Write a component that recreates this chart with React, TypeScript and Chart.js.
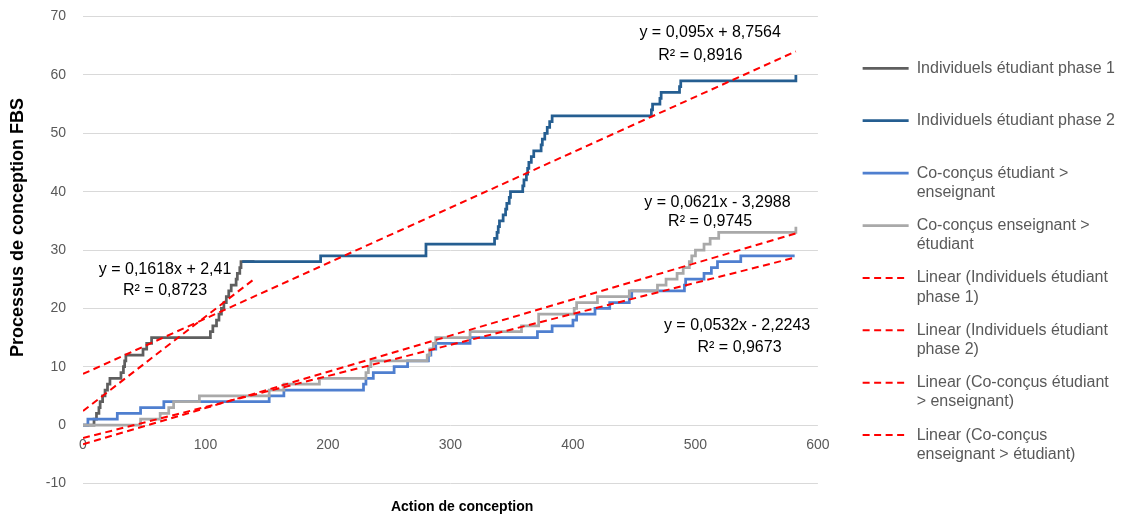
import React, { useEffect, useRef } from 'react';
import { Chart, registerables } from 'chart.js';

Chart.register(...registerables);

const FONT = "'Liberation Sans', Arial, Helvetica, sans-serif";

// ---- data (x where the cumulative count changes, new count) ----
const phase1X = [0, 8, 9, 11, 13, 14, 16, 18, 20, 22, 31, 33, 34, 35, 49, 52, 56, 104, 106, 109, 111, 113, 115, 117, 119, 121, 125, 126, 128, 129, 140];
const phase1Y = [0, 0, 1, 2, 3, 4, 5, 6, 7, 8, 9, 10, 11, 12, 13, 14, 15, 16, 17, 18, 19, 20, 21, 22, 23, 24, 25, 26, 27, 28, 28];

const phase2X = [130, 194, 280, 336, 338, 339, 340, 343, 345, 346, 348, 349, 359, 360, 362, 363, 364, 366, 368, 374, 375, 377, 379, 381, 383, 464, 465, 471, 472, 487, 488, 582];
const phase2Y = [28, 29, 31, 32, 33, 34, 35, 36, 37, 38, 39, 40, 41, 42, 43, 44, 45, 46, 47, 48, 49, 50, 51, 52, 53, 54, 55, 56, 57, 58, 59, 60];

const coEtuEnsX = [0, 4, 28, 47, 66, 152, 164, 229, 231, 237, 254, 265, 282, 284, 288, 316, 371, 383, 400, 403, 418, 430, 446, 448, 491, 492, 507, 513, 518, 537, 581];
const coEtuEnsY = [0, 1, 2, 3, 4, 5, 6, 7, 8, 9, 10, 11, 12, 13, 14, 15, 16, 17, 18, 19, 20, 21, 22, 23, 24, 25, 26, 27, 28, 29, 29];

const coEnsEtuX = [0, 47, 63, 70, 74, 95, 152, 164, 193, 231, 233, 235, 281, 283, 286, 288, 316, 358, 372, 401, 403, 420, 446, 469, 476, 485, 490, 495, 497, 500, 507, 512, 519, 582];
const coEnsEtuY = [0, 1, 2, 3, 4, 5, 6, 7, 8, 9, 10, 11, 12, 13, 14, 15, 16, 17, 19, 20, 21, 22, 23, 24, 25, 26, 27, 28, 29, 30, 31, 32, 33, 34];

// Linear trendlines (coefficients as printed on the chart)
const trendSlope = [0.1618, 0.095, 0.0532, 0.0621];
const trendIntercept = [2.41, 8.7564, -2.2243, -3.2988];
const trendXStart = [0, 0, 0, 0];
const trendXEnd = [140, 582, 582, 582];

const eqTexts = [
  'y = 0,1618x + 2,41', 'R² = 0,8723',
  'y = 0,095x + 8,7564', 'R² = 0,8916',
  'y = 0,0621x - 3,2988', 'R² = 0,9745',
  'y = 0,0532x - 2,2243', 'R² = 0,9673',
];

const xTicksMin = 0, xTicksMax = 600, xTickStep = 100;
const yTicksMin = -10, yTicksMax = 70, yTickStep = 10;

const xAxisTitle = 'Action de conception';
const yAxisTitle = 'Processus de conception FBS';

const legendTexts: string[][] = [
  ['Individuels étudiant phase 1', ''],
  ['Individuels étudiant phase 2', ''],
  ['Co-conçus étudiant >', 'enseignant'],
  ['Co-conçus enseignant >', 'étudiant'],
  ['Linear (Individuels étudiant', 'phase 1)'],
  ['Linear (Individuels étudiant', 'phase 2)'],
  ['Linear (Co-conçus étudiant', '> enseignant)'],
  ['Linear (Co-conçus', 'enseignant > étudiant)'],
];

// ---- presentation (label anchors in data units, styles) ----
const eqAnchorX = [67, 67, 512, 504, 518, 512, 534, 536];
const eqAnchorY = [26.6, 23.0, 67.2, 63.4, 38.2, 34.8, 17.0, 13.2];

const seriesColors = ['#5f5f5f', '#255e91', '#4f7fcf', '#a9a9a9'];
const TREND_COLOR = '#ff0000';

// titles are nudged off-centre (as in the original) with leading spaces
const X_TITLE_SHIFT = '      ';
const Y_TITLE_SHIFT = '         ';

function pts(xs: number[], ys: number[]) {
  return xs.map((x, i) => ({ x, y: ys[i] }));
}

const eqPlugin = {
  id: 'eqLabels',
  afterDatasetsDraw(chart: any) {
    const { ctx, scales } = chart;
    const xs = scales.x, ys = scales.y;
    ctx.save();
    ctx.font = `16px ${FONT}`;
    ctx.fillStyle = '#000000';
    ctx.textAlign = 'center';
    ctx.textBaseline = 'middle';
    eqTexts.forEach((t, i) => {
      ctx.fillText(t, xs.getPixelForValue(eqAnchorX[i]), ys.getPixelForValue(eqAnchorY[i]));
    });
    ctx.restore();
  },
};

export default function App() {
  const ref = useRef<HTMLCanvasElement>(null);

  useEffect(() => {
    if (!ref.current) return;
    const series = [
      pts(phase1X, phase1Y),
      pts(phase2X, phase2Y),
      pts(coEtuEnsX, coEtuEnsY),
      pts(coEnsEtuX, coEnsEtuY),
    ];
    const datasets: any[] = series.map((data, i) => ({
      label: legendTexts[i].join(' '),
      data,
      showLine: true,
      stepped: 'before',
      borderColor: seriesColors[i],
      backgroundColor: seriesColors[i],
      borderWidth: 2.75,
      pointRadius: 0,
      pointHoverRadius: 0,
      fill: false,
      order: 8 - i,
    }));
    trendSlope.forEach((m, i) => {
      const x0 = trendXStart[i], x1 = trendXEnd[i];
      datasets.push({
        label: legendTexts[4 + i].join(' '),
        data: [
          { x: x0, y: m * x0 + trendIntercept[i] },
          { x: x1, y: m * x1 + trendIntercept[i] },
        ],
        showLine: true,
        borderColor: TREND_COLOR,
        backgroundColor: TREND_COLOR,
        borderWidth: 2,
        borderDash: [7, 4.5],
        pointRadius: 0,
        pointHoverRadius: 0,
        fill: false,
        order: 4 - i,
      });
    });

    const chart = new Chart(ref.current, {
      type: 'scatter',
      data: { datasets },
      plugins: [eqPlugin],
      options: {
        animation: false,
        responsive: false,
        devicePixelRatio: 1,
        events: [],
        layout: { padding: { left: 0, right: 5, top: 0, bottom: 0 } },
        font: { family: FONT },
        plugins: {
          tooltip: { enabled: false },
          legend: {
            position: 'right',
            maxWidth: 400,
            title: { display: true, text: '', font: { size: 4, lineHeight: 1.2 }, padding: 0 },
            labels: {
              usePointStyle: true,
              pointStyleWidth: 46,
              padding: 14,
              font: { family: FONT, size: 16 },
              color: '#595959',
              generateLabels: (ch: any) =>
                ch.data.datasets.map((ds: any, i: number) => ({
                  text: legendTexts[i],
                  fillStyle: ds.borderColor,
                  strokeStyle: ds.borderColor,
                  lineWidth: ds.borderWidth,
                  lineDash: ds.borderDash || [],
                  lineCap: 'butt',
                  pointStyle: 'line',
                  hidden: false,
                  datasetIndex: i,
                  fontColor: '#595959',
                })),
            },
          },
        },
        scales: {
          x: {
            type: 'linear',
            position: { y: 0 } as any,
            min: xTicksMin,
            max: xTicksMax,
            grid: { display: false, drawTicks: false },
            border: { display: false },
            ticks: {
              stepSize: xTickStep,
              padding: 12,
              color: '#595959',
              font: { family: FONT, size: 14 },
              maxRotation: 0,
            },
          },
          xTitle: {
            type: 'linear',
            position: 'bottom',
            display: true,
            grid: { display: false, drawTicks: false },
            border: { display: false },
            ticks: { display: false },
            title: {
              display: true,
              text: X_TITLE_SHIFT + xAxisTitle,
              color: '#000000',
              font: { family: FONT, size: 14, weight: 'bold' },
              padding: { top: 0, bottom: 5.6 },
            },
            afterFit: (s: any) => { s.height = 37.6; },
          },
          xTop: {
            type: 'linear',
            position: 'top',
            display: true,
            grid: { display: false, drawTicks: false },
            border: { display: false },
            ticks: { display: false },
            afterFit: (s: any) => { s.height = 16.6; },
          },
          y: {
            type: 'linear',
            position: 'left',
            min: yTicksMin,
            max: yTicksMax,
            grid: {
              color: '#d9d9d9',
              lineWidth: 1,
              drawTicks: true,
              tickLength: 17,
              tickColor: 'rgba(0,0,0,0)',
            },
            border: { display: false },
            ticks: {
              stepSize: yTickStep,
              padding: 0,
              color: '#595959',
              font: { family: FONT, size: 14 },
            },
            title: {
              display: true,
              text: Y_TITLE_SHIFT + yAxisTitle,
              color: '#000000',
              font: { family: FONT, size: 18, weight: 'bold' },
              padding: { top: 7, bottom: 0 },
            },
            afterFit: (s: any) => { s.width = 83; },
          },
          yRight: {
            type: 'linear',
            position: 'right',
            display: true,
            grid: { display: false, drawTicks: false },
            border: { display: false },
            ticks: { display: false },
            afterFit: (s: any) => { s.width = 30.7; },
          },
        },
      } as any,
    });
    return () => chart.destroy();
  }, []);

  return (
    <div style={{ position: 'fixed', left: 0, top: 0, width: 1130, height: 521, background: '#ffffff' }}>
      <canvas ref={ref} width={1130} height={521} style={{ display: 'block' }} />
    </div>
  );
}
